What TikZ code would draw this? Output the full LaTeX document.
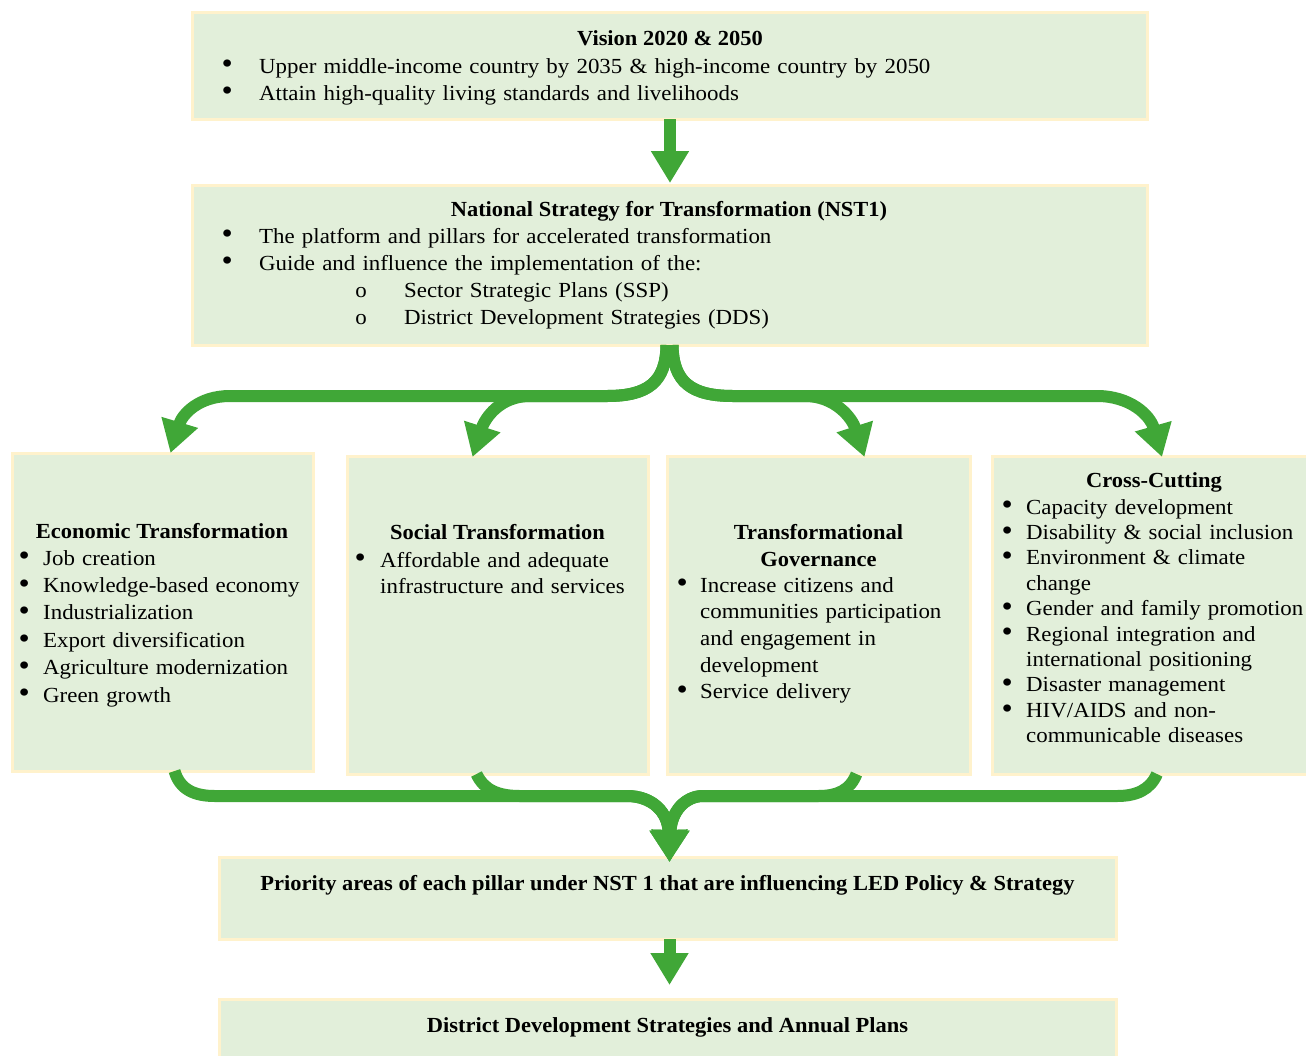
\documentclass[tikz,border=0pt]{standalone}
\usepackage{fontspec}
\setmainfont{Liberation Serif}[FakeStretch=1.065, BoldFeatures={FakeStretch=1.045}]
\usetikzlibrary{arrows.meta,calc}

\definecolor{boxfill}{RGB}{226,239,218}
\definecolor{boxedge}{RGB}{255,242,204}
\definecolor{flowgreen}{RGB}{64,167,55}

% bullet hung in the left margin, centred #1 before the text
\newcommand\bigdot{\smash{\raisebox{-0.8pt}{\scalebox{1.4}{\textbullet}}}}
\newcommand\bul[1]{\leavevmode\llap{\makebox[0pt][c]{\bigdot}\hspace{#1}}}
\newcommand\obul[1]{\leavevmode\llap{\makebox[0pt][c]{o}\hspace{#1}}}

\tikzset{
  panel/.style={draw=boxedge, fill=boxfill, line width=3pt, anchor=north west,
                inner sep=0pt, outer sep=0pt},
  flow/.style={draw=flowgreen, line width=12pt, line join=round,
               -{Triangle[width=36pt,length=32pt]}},
  ttl/.style={anchor=base, inner sep=0pt, font=\fontsize{21.5}{27}\selectfont\bfseries},
  lst/.style={anchor=base west, inner sep=0pt, text width=#1, align=left,
              font=\fontsize{21.5}{27}\selectfont},
}

\begin{document}
\begin{tikzpicture}[x=1pt,y=-1pt]
\useasboundingbox (0,0) rectangle (1306,1055);
\clip (0,0) rectangle (1306,1055);

% ---------- boxes ----------
\node[panel, minimum width=955pt, minimum height=107pt] (vision)   at (192,12)  {};
\node[panel, minimum width=955pt, minimum height=160pt] (nst)      at (192,185) {};
\node[panel, minimum width=301pt, minimum height=318pt] (econ)     at (12,453)  {};
\node[panel, minimum width=301pt, minimum height=318pt] (social)   at (347,456) {};
\node[panel, minimum width=303pt, minimum height=318pt] (gov)      at (667,456) {};
\node[panel, minimum width=330pt, minimum height=318pt] (cross)    at (992,456) {};
\node[panel, minimum width=897pt, minimum height=82pt]  (priority) at (219,857) {};
\node[panel, minimum width=897pt, minimum height=80pt]  (district) at (219,999) {};

% ---------- texts ----------
\node[ttl] (visionT) at (670,45) {Vision 2020 \& 2050};
\node[lst=870pt] (visionL) at (259,73) {%
  \bul{32pt}Upper middle-income country by 2035 \& high-income country by 2050\\
  \bul{32pt}Attain high-quality living standards and livelihoods};

\node[ttl] (nstT) at (669,216) {National Strategy for Transformation (NST1)};
\node[lst=870pt] (nstL) at (259,243) {%
  \bul{32pt}The platform and pillars for accelerated transformation\\
  \bul{32pt}Guide and influence the implementation of the:\\
  \hspace*{145pt}\obul{43pt}Sector Strategic Plans (SSP)\\
  \hspace*{145pt}\obul{43pt}District Development Strategies (DDS)};

\node[ttl] (econT) at (162,538) {Economic Transformation};
\node[lst=290pt, font=\fontsize{21.5}{27.4}\selectfont] (econL) at (43,565) {%
  \bul{19pt}Job creation\\
  \bul{19pt}Knowledge-based economy\\
  \bul{19pt}Industrialization\\
  \bul{19pt}Export diversification\\
  \bul{19pt}Agriculture modernization\\
  \bul{19pt}Green growth};

\node[ttl] (socialT) at (497.5,539) {Social Transformation};
\node[lst=290pt, font=\fontsize{21.5}{26.5}\selectfont] (socialL) at (380,567) {%
  \bul{20pt}Affordable and adequate\\
  infrastructure and services};

\node[ttl, text width=300pt, align=center] (govT) at (818.5,539) {Transformational\\Governance};
\node[lst=290pt, font=\fontsize{21.5}{26.7}\selectfont] (govL) at (700,592) {%
  \bul{18pt}Increase citizens and\\
  communities participation\\
  and engagement in\\
  development\\
  \bul{18pt}Service delivery};

\node[ttl] (crossT) at (1154,487) {Cross-Cutting};
\node[lst=320pt, font=\fontsize{21.5}{25.4}\selectfont] (crossL) at (1026,514) {%
  \bul{19pt}Capacity development\\
  \bul{19pt}Disability \& social inclusion\\
  \bul{19pt}Environment \& climate\\
  change\\
  \bul{19pt}Gender and family promotion\\
  \bul{19pt}Regional integration and\\
  international positioning\\
  \bul{19pt}Disaster management\\
  \bul{19pt}HIV/AIDS and non-\\
  communicable diseases};

\node[ttl] (priorityT) at (667.5,890) {Priority areas of each pillar under NST 1 that are influencing LED Policy \& Strategy};
\node[ttl] (districtT) at (667.5,1032) {District Development Strategies and Annual Plans};

% ---------- connectors ----------
\draw[flow] ([xshift=0.5pt]vision.south) -- ([xshift=0.5pt,yshift=2pt]nst.north);

\coordinate (t1) at ([xshift=8pt]econ.north);
\coordinate (t2) at ([xshift=-25pt,yshift=-1pt]social.north);
\coordinate (t3) at ([xshift=46pt,yshift=-1pt]gov.north);
\coordinate (t4) at ([xshift=5pt,yshift=-1pt]cross.north);

\draw[flow] ([xshift=-3pt]nst.south) .. controls (666,382) and (648,396) .. (607,396)
  -- (230,396) .. controls (198,396) and (182,415) .. (t1);
\draw[flow] ([xshift=-3pt]nst.south) .. controls (666,382) and (648,396) .. (607,396)
  -- (530,396) .. controls (500,396) and (485,418) .. (t2);
\draw[flow] ([xshift=3pt]nst.south) .. controls (673,382) and (691,396) .. (733,396)
  -- (805,396) .. controls (835,396) and (852,418) .. (t3);
\draw[flow] ([xshift=3pt]nst.south) .. controls (673,382) and (691,396) .. (733,396)
  -- (1097,396) .. controls (1130,396) and (1150,415) .. (t4);

\coordinate (m) at ([xshift=2pt,yshift=-5pt]priority.north);
\draw[flow] ([xshift=12pt]econ.south) .. controls (180,790) and (195,796) .. (215,796)
  -- (627,796) .. controls (652,796) and (668,812) .. (m);
\draw[flow] ([xshift=-21pt]social.south) .. controls (484,790) and (498,796) .. (520,796)
  -- (627,796) .. controls (652,796) and (668,812) .. (m);
\draw[flow] ([xshift=38pt]gov.south) .. controls (850,790) and (838,796) .. (818,796)
  -- (703,796) .. controls (685,796) and (671,812) .. (m);
\draw[flow] (cross.south) .. controls (1150,790) and (1136,796) .. (1117,796)
  -- (703,796) .. controls (685,796) and (671,812) .. (m);

\draw[flow] ([xshift=2pt]priority.south) -- ([xshift=2pt,yshift=14pt]district.north);
\end{tikzpicture}
\end{document}
